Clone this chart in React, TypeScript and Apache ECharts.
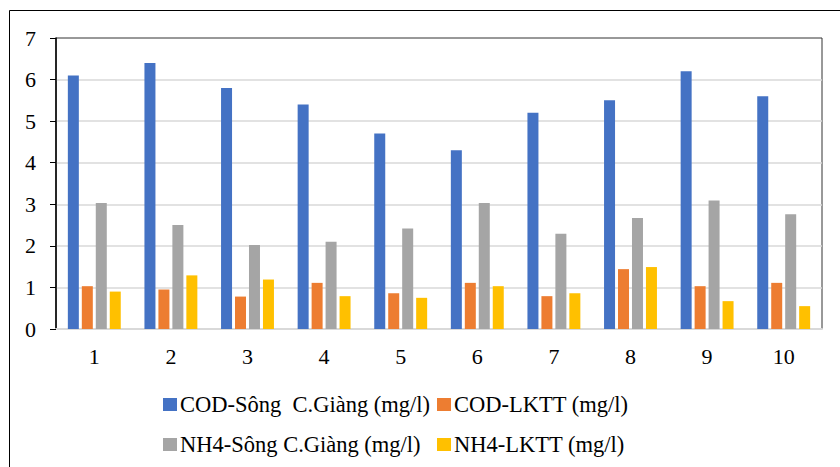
import React, { useEffect, useRef } from "react";
import * as echarts from "echarts";

const categories = ["1", "2", "3", "4", "5", "6", "7", "8", "9", "10"];
const seriesNames = [
  "COD-Sông  C.Giàng (mg/l)",
  "COD-LKTT (mg/l)",
  "NH4-Sông C.Giàng (mg/l)",
  "NH4-LKTT (mg/l)",
];
const codSong = [6.1, 6.4, 5.8, 5.4, 4.7, 4.3, 5.2, 5.5, 6.2, 5.6];
const codLktt = [1.03, 0.95, 0.78, 1.11, 0.86, 1.11, 0.79, 1.44, 1.03, 1.11];
const nh4Song = [3.03, 2.5, 2.02, 2.1, 2.42, 3.03, 2.29, 2.67, 3.09, 2.76];
const nh4Lktt = [0.9, 1.29, 1.19, 0.79, 0.75, 1.03, 0.86, 1.49, 0.67, 0.55];
const colors = ["#4472C4", "#ED7D31", "#A5A5A5", "#FFC000"];

const FONT = "Liberation Serif";

export default function App() {
  const ref = useRef<HTMLDivElement>(null);
  useEffect(() => {
    if (!ref.current) return;
    const chart = echarts.init(ref.current, null, { renderer: "svg" });
    const data = [codSong, codLktt, nh4Song, nh4Lktt];
    const legendPos = [
      { left: 163, top: 393 },
      { left: 437, top: 393 },
      { left: 163, top: 433 },
      { left: 437, top: 433 },
    ];
    chart.setOption({
      animation: false,
      textStyle: { fontFamily: FONT },
      graphic: [
        {
          type: "rect",
          shape: { x: 9.5, y: 10.5, width: 840, height: 470 },
          style: { fill: "none", stroke: "#000", lineWidth: 1 },
          silent: true,
        },
      ],
      grid: {
        left: 56,
        top: 38,
        right: 18,
        bottom: 138,
        show: true,
        borderColor: "#333",
        borderWidth: 1,
      },
      legend: legendPos.map((p, i) => ({
        data: [seriesNames[i]],
        left: p.left,
        top: p.top,
        padding: 0,
        itemWidth: 14,
        itemHeight: 13,
        itemGap: 4,
        icon: "rect",
        textStyle: { fontFamily: FONT, fontSize: 22.5, color: "#000", padding: [0, 0, 0, -2] },
      })),
      xAxis: {
        type: "category",
        data: categories,
        axisLine: { show: true, lineStyle: { color: "#d9d9d9", width: 2 } },
        axisTick: { show: false },
        axisLabel: { fontFamily: FONT, fontSize: 22, color: "#000", margin: 16 },
      },
      yAxis: {
        type: "value",
        min: 0,
        max: 7,
        interval: 1,
        axisLine: { show: true, lineStyle: { color: "#000", width: 1.5 } },
        axisTick: { show: true, length: 6, lineStyle: { color: "#000" } },
        axisLabel: { fontFamily: FONT, fontSize: 22, color: "#000", margin: 20 },
        splitLine: { show: true, showMaxLine: false, lineStyle: { color: "#d9d9d9", width: 1.5 } },
      },
      series: data.map((d, i) => ({
        name: seriesNames[i],
        type: "bar",
        data: d,
        barWidth: 11,
        barGap: "27%",
        itemStyle: { color: colors[i] },
      })),
    });
    return () => chart.dispose();
  }, []);
  return <div ref={ref} style={{ width: 840, height: 467, position: "absolute", left: 0, top: 0 }} />;
}
